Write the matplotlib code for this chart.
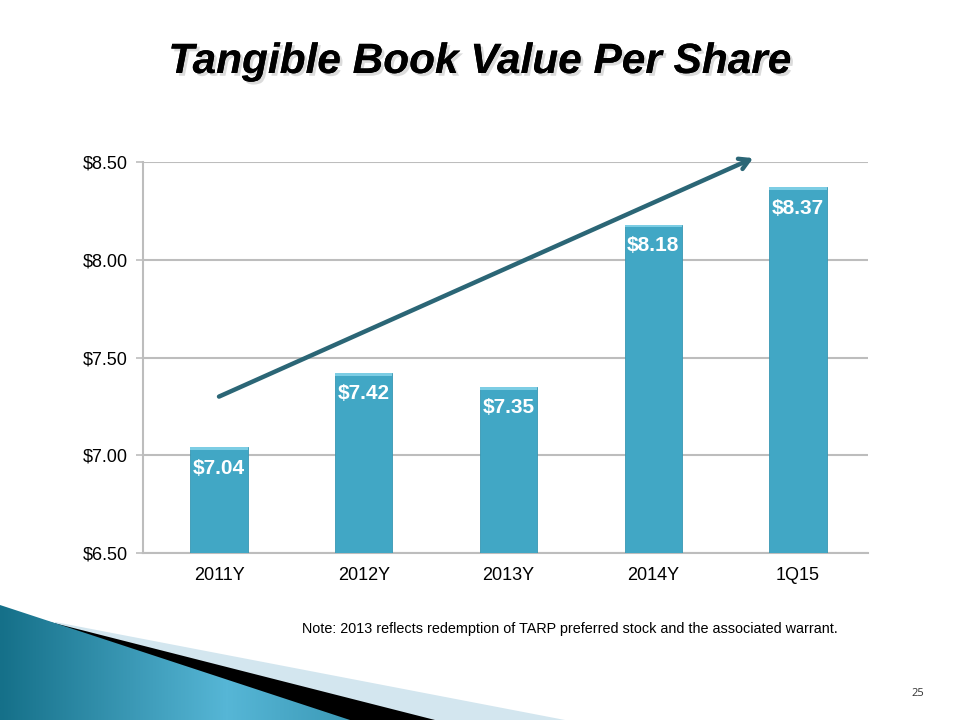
import numpy as np
import matplotlib
matplotlib.use("Agg")
import matplotlib.pyplot as plt
import matplotlib.patheffects as pe
from matplotlib.patches import Polygon
from matplotlib.colors import LinearSegmentedColormap

plt.rcParams["font.family"] = ["Liberation Sans", "DejaVu Sans"]

# data
categories = ["2011Y", "2012Y", "2013Y", "2014Y", "1Q15"]
values = [7.04, 7.42, 7.35, 8.18, 8.37]
value_labels = ["$7.04", "$7.42", "$7.35", "$8.18", "$8.37"]
y_ticks = [6.50, 7.00, 7.50, 8.00, 8.50]
y_tick_labels = ["$6.50", "$7.00", "$7.50", "$8.00", "$8.50"]

BAR = "#41a7c5"
GRID = "#bdbdbd"
ARROW = "#2b6676"

fig = plt.figure(figsize=(9.6, 7.2), dpi=100)

# ---------------------------------------------------------------------------
# bottom-left swoosh decoration (figure pixel coords, y from top)
# ---------------------------------------------------------------------------
deco = fig.add_axes([0, 0, 1, 1], zorder=0)
deco.set_xlim(0, 960)
deco.set_ylim(720, 0)
deco.axis("off")

deco.add_patch(Polygon([(55, 622), (565, 720), (55, 720)], closed=True,
                       fc="#d3e6ef", ec="none"))
deco.add_patch(Polygon([(42, 620), (435, 720), (42, 720)], closed=True,
                       fc="black", ec="none"))
blue = Polygon([(0, 605), (350, 720), (0, 720)], closed=True,
               fc="none", ec="none")
deco.add_patch(blue)
gx = np.linspace(0, 1, 256)
grad = np.vstack([np.interp(gx, [0, 0.65, 1], [0, 1, 0.6])] * 2)
cmap = LinearSegmentedColormap.from_list("sw", ["#157089", "#56b6d6"])
im = deco.imshow(grad, extent=[0, 350, 720, 605], cmap=cmap,
                 aspect="auto", zorder=1)
im.set_clip_path(blue)

# ---------------------------------------------------------------------------
# title / notes
# ---------------------------------------------------------------------------
fig.text(0.5, 1 - 62 / 720, "Tangible Book Value Per Share", ha="center",
         va="center", fontsize=30.5, fontweight="bold", style="italic",
         color="black",
         path_effects=[pe.withSimplePatchShadow(offset=(2, -2),
                                                shadow_rgbFace="#b8b8b8",
                                                alpha=0.5),
                       pe.Normal()])
fig.text(302 / 960, 1 - 629 / 720,
         "Note: 2013 reflects redemption of TARP preferred stock and the associated warrant.",
         ha="left", va="center", fontsize=10.4, color="black")
fig.text(918 / 960, 1 - 694 / 720, "25", ha="center", va="center",
         fontsize=8, color="#333333", family=["Open Sans", "DejaVu Sans"])

# ---------------------------------------------------------------------------
# chart
# ---------------------------------------------------------------------------
ax = fig.add_axes([143 / 960, 1 - 553 / 720, 725 / 960, 391 / 720], zorder=2)
ax.patch.set_alpha(0)
x = np.arange(len(categories))
bars = ax.bar(x, values, width=0.395, color=BAR, zorder=3,
              edgecolor="#3797b3", linewidth=0.6)
# light bevel on bar tops
ax.bar(x, [0.015] * len(values), bottom=np.array(values) - 0.015, width=0.395,
       color="#7ccde4", zorder=4, linewidth=0)

for xi, v, lab in zip(x, values, value_labels):
    ax.annotate(lab, (xi, v), xytext=(0, -15), textcoords="offset points",
                ha="center", va="center", color="white", fontsize=15,
                fontweight="bold", zorder=5)

ax.set_ylim(6.5, 8.5)
ax.set_xlim(-0.525, len(categories) - 0.517)
ax.set_yticks(y_ticks)
ax.set_yticklabels(y_tick_labels, fontsize=13)
ax.set_xticks(x)
ax.set_xticklabels(categories, fontsize=13)
ax.tick_params(axis="x", length=0, pad=10)
ax.tick_params(axis="y", length=5, color=GRID, width=1.2, pad=6)
ax.yaxis.grid(True, color=GRID, linewidth=1.5, zorder=0)
for s in ["top", "right"]:
    ax.spines[s].set_visible(False)
for s in ["left", "bottom"]:
    ax.spines[s].set_color(GRID)
    ax.spines[s].set_linewidth(1.5)

# trend arrow
ax.annotate("", xy=(3.69, 8.52), xytext=(0.0, 7.30),
            arrowprops=dict(arrowstyle="->,head_length=0.7,head_width=0.4",
                            color=ARROW, lw=3.2, shrinkA=0, shrinkB=0),
            annotation_clip=False, zorder=6)

fig.savefig("out.png", dpi=100)
